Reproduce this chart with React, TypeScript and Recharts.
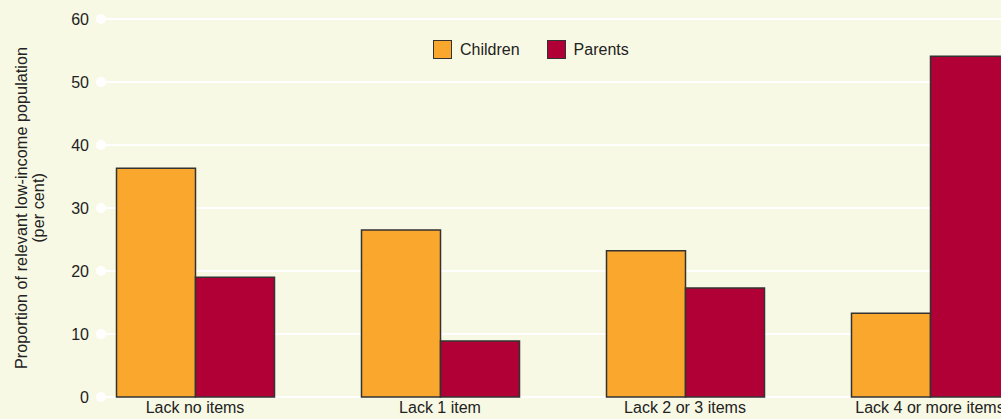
import React from 'react';
import {
  BarChart,
  Bar,
  XAxis,
  YAxis,
  CartesianGrid,
  Legend
} from 'recharts';

const categories = ['Lack no items', 'Lack 1 item', 'Lack 2 or 3 items', 'Lack 4 or more items'];
const childrenValues = [36.3, 26.5, 23.2, 13.3];
const parentValues = [19.0, 8.9, 17.3, 54.1];
const yTicks = [0, 10, 20, 30, 40, 50, 60];

const BG = '#F8F9E4';
const ORANGE = '#FAA82D';
const CRIMSON = '#B00035';
const TEXT = '#222222';
const FONT = '"Liberation Sans", Arial, Helvetica, sans-serif';

const data = categories.map((name, i) => ({
  name,
  Children: childrenValues[i],
  Parents: parentValues[i],
}));

// grid lines start a bit right of the plot edge, with a round cap dot
const GridLine = (p: any) => {
  const start = p.x1 + 28.5;
  return (
    <g key={p.key}>
      <line x1={start} y1={p.y1} x2={p.x2} y2={p.y2} stroke="#ffffff" strokeWidth={2} />
      <circle cx={start} cy={p.y1} r={5} fill="#ffffff" />
    </g>
  );
};

const YTick = ({ y, payload }: any) => (
  <text x={89} y={y} dy={5.5} textAnchor="end" fill={TEXT} fontSize={16} fontFamily={FONT}>
    {payload.value}
  </text>
);

const YLabel = ({ viewBox }: any) => {
  const cy = viewBox.y + viewBox.height / 2;
  return (
    <g fill={TEXT} fontSize={16.3} fontFamily={FONT} textAnchor="middle">
      <text x={27} y={cy} transform={`rotate(-90, 27, ${cy})`}>
        Proportion of relevant low-income population
      </text>
      <text x={44} y={cy} transform={`rotate(-90, 44, ${cy})`}>
        (per cent)
      </text>
    </g>
  );
};

const LegendBox = ({ payload }: any) => (
  <div style={{ display: 'flex', alignItems: 'center', fontFamily: FONT, fontSize: 16, color: TEXT }}>
    {payload.map((entry: any, i: number) => (
      <div key={entry.value} style={{ display: 'flex', alignItems: 'center', marginRight: i === 0 ? 27 : 0 }}>
        <span
          style={{
            display: 'inline-block',
            width: 17,
            height: 17,
            background: entry.color,
            border: '1px solid #333',
            marginRight: 8,
          }}
        />
        <span>{entry.value}</span>
      </div>
    ))}
  </div>
);

const App: React.FC = () => {
  return (
    <div style={{ position: 'absolute', top: 0, left: 0, width: 1001, height: 419, overflow: 'hidden', background: BG }}>
      <BarChart
        width={1060}
        height={419}
        data={data}
        margin={{ top: 19, right: 7.5, bottom: 0, left: 0 }}
        barSize={79}
        barGap={0}
        style={{ background: BG }}
      >
        <CartesianGrid horizontal={GridLine} vertical={false} />
        <XAxis
          dataKey="name"
          axisLine={false}
          tickLine={false}
          tickSize={0}
          tickMargin={5}
          interval={0}
          height={22}
          tick={{ fill: TEXT, fontSize: 16, fontFamily: FONT }}
        />
        <YAxis
          width={72.5}
          domain={[0, 60]}
          ticks={yTicks}
          axisLine={false}
          tickLine={false}
          tick={<YTick />}
          label={{ content: <YLabel /> }}
        />
        <Legend
          content={<LegendBox />}
          layout="horizontal"
          verticalAlign="middle"
          align="center"
          wrapperStyle={{ top: 40, left: 433, width: 'auto' }}
        />
        <Bar dataKey="Children" fill={ORANGE} stroke="#333" strokeWidth={1.5} isAnimationActive={false} />
        <Bar dataKey="Parents" fill={CRIMSON} stroke="#333" strokeWidth={1.5} isAnimationActive={false} />
      </BarChart>
    </div>
  );
};

export default App;
